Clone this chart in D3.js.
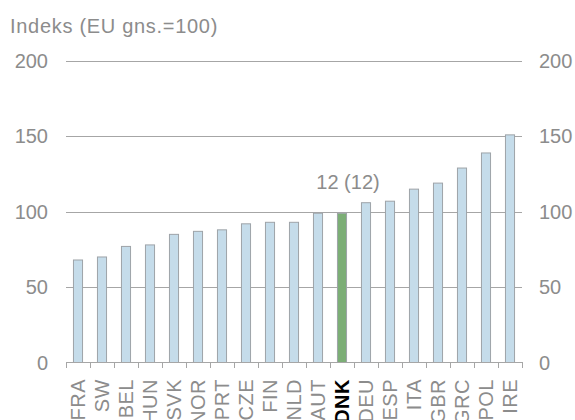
<!DOCTYPE html>
<html>
<head>
<meta charset="utf-8">
<script src="https://cdn.jsdelivr.net/npm/d3@7/dist/d3.min.js"></script>
<style>
  html, body { margin: 0; padding: 0; background: #fff; }
  svg { display: block; font-family: "Liberation Sans", Arial, sans-serif; }
</style>
</head>
<body>
<svg id="chart" width="575" height="420"></svg>
<script>
const categories = ["FRA","SW","BEL","HUN","SVK","NOR","PRT","CZE","FIN","NLD","AUT","DNK","DEU","ESP","ITA","GBR","GRC","POL","IRE"];
const values = [68, 70, 77, 78, 85, 87, 88, 92, 93, 93, 99, 99, 106, 107, 115, 119, 129, 139, 151];
const highlight = "DNK";
const yTicks = [0, 50, 100, 150, 200];
const titleText = "Indeks (EU gns.=100)";
const annotationText = "12 (12)";

const svg = d3.select("#chart");
const gray = "#8c8c8c";
const fontSize = 20;

const x = d3.scaleBand().domain(categories).range([66, 522]).paddingInner(0.58).paddingOuter(0.29);
const y = d3.scaleLinear().domain([0, 200]).range([362.5, 61]);

// gridlines
svg.append("g").selectAll("line").data(yTicks.filter(d => d > 0)).join("line")
  .attr("x1", 66).attr("x2", 522)
  .attr("y1", d => Math.round(y(d)) + 0.5).attr("y2", d => Math.round(y(d)) + 0.5)
  .attr("stroke", "#a6a6a6").attr("stroke-width", 1);

// left / right tick labels
svg.append("g").selectAll("text").data(yTicks).join("text")
  .attr("x", 48).attr("y", d => y(d)).attr("dy", "0.35em")
  .attr("text-anchor", "end").attr("fill", gray).attr("font-size", fontSize)
  .text(d => d);
svg.append("g").selectAll("text").data(yTicks).join("text")
  .attr("x", 539).attr("y", d => y(d)).attr("dy", "0.35em")
  .attr("text-anchor", "start").attr("fill", gray).attr("font-size", fontSize)
  .text(d => d);

// bars
svg.append("g").selectAll("rect").data(categories).join("rect")
  .attr("x", d => x(d) + 0.5)
  .attr("y", (d, i) => y(values[i]))
  .attr("width", x.bandwidth() - 1)
  .attr("height", (d, i) => y(0) - y(values[i]))
  .attr("fill", d => d === highlight ? "#7cae76" : "#c5dcea")
  .attr("stroke", "#9ea3a8").attr("stroke-width", 1);

// x axis line and ticks
const step = x.step();
const edges = categories.map(c => x(c) - (step - x.bandwidth()) / 2).concat([x(categories[categories.length - 1]) + x.bandwidth() + (step - x.bandwidth()) / 2]);
svg.append("line").attr("x1", 66).attr("x2", 522).attr("y1", 362.5).attr("y2", 362.5)
  .attr("stroke", "#a6a6a6").attr("stroke-width", 1);
svg.append("g").selectAll("line").data(edges).join("line")
  .attr("x1", d => Math.round(d) + 0.5).attr("x2", d => Math.round(d) + 0.5)
  .attr("y1", 362).attr("y2", 368)
  .attr("stroke", "#a6a6a6").attr("stroke-width", 1);

// x labels
svg.append("g").selectAll("text").data(categories).join("text")
  .attr("transform", d => `translate(${x(d) + x.bandwidth() / 2},379) rotate(-90)`)
  .attr("dy", "0.35em")
  .attr("text-anchor", "end")
  .attr("font-size", fontSize)
  .attr("letter-spacing", 0.5)
  .attr("font-weight", d => d === highlight ? "bold" : "normal")
  .attr("fill", d => d === highlight ? "#000" : gray)
  .text(d => d);

// title
svg.append("text").attr("x", 10).attr("y", 33).attr("fill", gray)
  .attr("font-size", fontSize).attr("letter-spacing", 0.7).text(titleText);

// annotation
const hi = categories.indexOf(highlight);
svg.append("text")
  .attr("x", x(highlight) + x.bandwidth() / 2 + 6)
  .attr("y", y(values[hi]) - 24)
  .attr("text-anchor", "middle").attr("fill", gray).attr("font-size", fontSize)
  .text(annotationText);
</script>
</body>
</html>
